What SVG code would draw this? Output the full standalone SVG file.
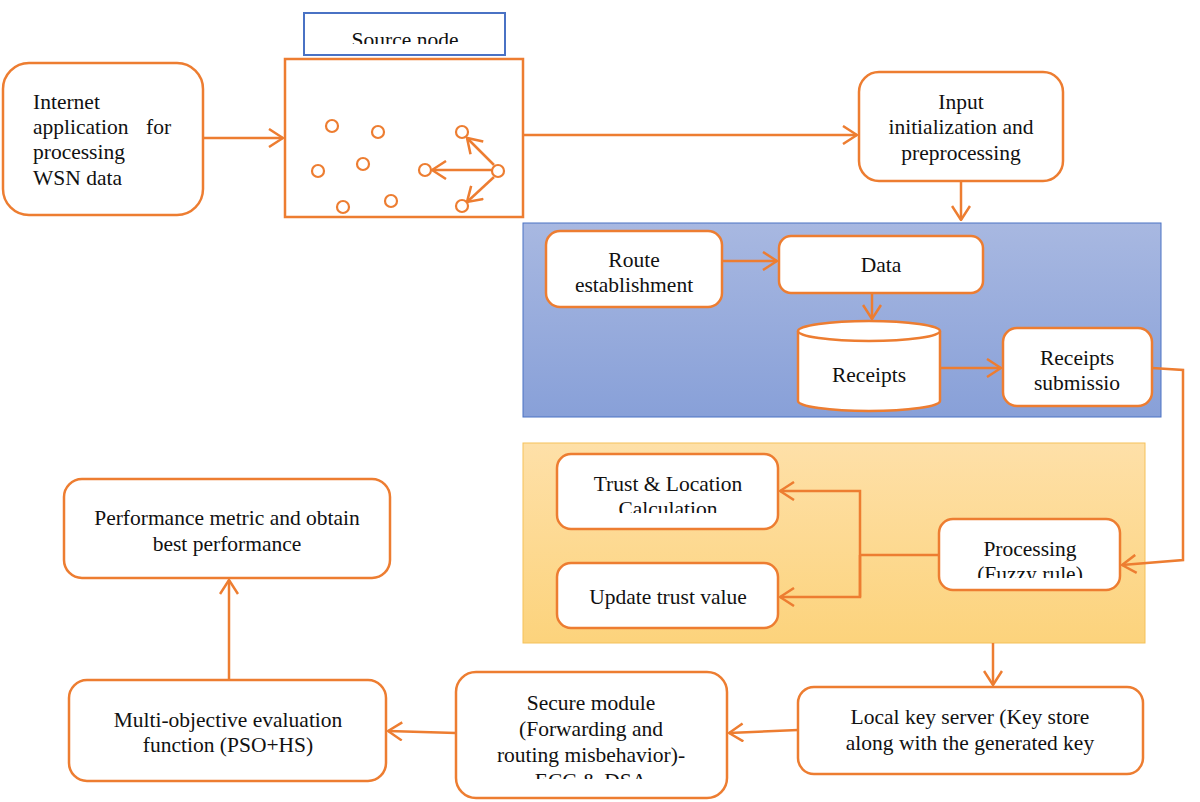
<svg xmlns="http://www.w3.org/2000/svg" width="1200" height="802" viewBox="0 0 1200 802">
<style>
.box{fill:#fff;stroke:#ED7D31;stroke-width:2.5}
.ln{fill:none;stroke:#ED7D31;stroke-width:2.5}
.arr{fill:none;stroke:#ED7D31;stroke-width:2.5;marker-end:url(#ah)}
.t{font-family:"Liberation Serif","Times New Roman",serif;font-size:21.5px;fill:#111}
.c{text-anchor:middle}
.dot{fill:#fff;stroke:#ED7D31;stroke-width:2.2}
</style>
<defs>
<marker id="ah" viewBox="0 0 16 20" refX="15" refY="10" markerWidth="16" markerHeight="20" markerUnits="userSpaceOnUse" orient="auto">
<path d="M1,1 L15,10 L1,19" fill="none" stroke="#ED7D31" stroke-width="2.5"/>
</marker>
<linearGradient id="gb" x1="0" y1="0" x2="0" y2="1">
<stop offset="0" stop-color="#a8b8e1"/><stop offset="1" stop-color="#88a0d8"/>
</linearGradient>
<linearGradient id="go" x1="0" y1="0" x2="0" y2="1">
<stop offset="0" stop-color="#fee0a8"/><stop offset="1" stop-color="#fcd37c"/>
</linearGradient>
<clipPath id="c1"><rect x="300" y="0" width="210" height="44"/></clipPath>
<clipPath id="c2"><rect x="557" y="454" width="221" height="59"/></clipPath>
<clipPath id="c3"><rect x="939" y="519" width="181" height="59"/></clipPath>
<clipPath id="c4"><rect x="456" y="672" width="271" height="107"/></clipPath>
</defs>

<g id="panels">
<rect x="523" y="223" width="638" height="194" fill="url(#gb)" stroke="#4a72c4" stroke-width="1"/>
<rect x="523" y="443" width="622" height="200" fill="url(#go)" stroke="#f5c15a" stroke-width="1"/>
</g>

<g id="internet">
<rect class="box" x="3" y="63" width="200" height="152" rx="26"/>
<text class="t" x="33" y="109">Internet</text>
<text class="t" x="33" y="134">application</text>
<text class="t" x="146" y="134">for</text>
<text class="t" x="33" y="159">processing</text>
<text class="t" x="33" y="185">WSN data</text>
</g>

<g id="source-label">
<rect x="304" y="13" width="201" height="42" fill="#fff" stroke="#4a72c4" stroke-width="2"/>
<text class="t c" x="405" y="47" clip-path="url(#c1)">Source node</text>
</g>

<g id="source-node">
<rect x="285" y="59" width="238" height="158" fill="#fff" stroke="#ED7D31" stroke-width="2.5"/>
<circle class="dot" cx="332" cy="126" r="6"/>
<circle class="dot" cx="378" cy="132" r="6"/>
<circle class="dot" cx="318" cy="171" r="6"/>
<circle class="dot" cx="363" cy="164" r="6"/>
<circle class="dot" cx="343" cy="207" r="6"/>
<circle class="dot" cx="391" cy="201" r="6"/>
<circle class="dot" cx="462" cy="132" r="6"/>
<circle class="dot" cx="425" cy="170" r="6"/>
<circle class="dot" cx="498" cy="171" r="6"/>
<circle class="dot" cx="462" cy="206" r="6"/>
<path class="arr" d="M492,170 L432,170"/>
<path class="arr" d="M494,165 L467,138"/>
<path class="arr" d="M494,177 L467,202"/>
</g>

<g id="input">
<rect class="box" x="859" y="72" width="204" height="109" rx="20"/>
<text class="t c" x="961" y="109">Input</text>
<text class="t c" x="961" y="134">initialization and</text>
<text class="t c" x="961" y="160">preprocessing</text>
</g>

<g id="route">
<rect class="box" x="546" y="231" width="176" height="76" rx="14"/>
<text class="t c" x="634" y="267">Route</text>
<text class="t c" x="634" y="292">establishment</text>
</g>

<g id="data">
<rect class="box" x="779" y="236" width="204" height="57" rx="12"/>
<text class="t c" x="881" y="272">Data</text>
</g>

<g id="receipts">
<path class="box" d="M798,331 L798,401 A71,10 0 0 0 940,401 L940,331"/>
<ellipse class="box" cx="869" cy="331" rx="71" ry="10"/>
<text class="t c" x="869" y="382">Receipts</text>
</g>

<g id="submission">
<rect class="box" x="1003" y="328" width="149" height="78" rx="14"/>
<text class="t c" x="1077" y="365">Receipts</text>
<text class="t c" x="1077" y="390">submissio</text>
</g>

<g id="trust">
<rect class="box" x="557" y="454" width="221" height="75" rx="14"/>
<text class="t c" x="668" y="491">Trust &amp; Location</text>
<text class="t c" x="668" y="516" clip-path="url(#c2)">Calculation</text>
</g>

<g id="update">
<rect class="box" x="557" y="563" width="221" height="65" rx="14"/>
<text class="t c" x="668" y="604">Update trust value</text>
</g>

<g id="processing">
<rect class="box" x="939" y="519" width="181" height="71" rx="14"/>
<text class="t c" x="1030" y="556">Processing</text>
<text class="t c" x="1030" y="581" clip-path="url(#c3)">(Fuzzy rule)</text>
</g>

<g id="localkey">
<rect class="box" x="798" y="687" width="345" height="87" rx="16"/>
<text class="t c" x="970" y="724">Local key server (Key store</text>
<text class="t c" x="970" y="750">along with the generated key</text>
</g>

<g id="secure">
<rect class="box" x="456" y="672" width="271" height="126" rx="20"/>
<text class="t c" x="591" y="710">Secure module</text>
<text class="t c" x="591" y="736">(Forwarding and</text>
<text class="t c" x="591" y="762">routing misbehavior)-</text>
<text class="t c" x="591" y="788" clip-path="url(#c4)">ECC &amp; DSA</text>
</g>

<g id="multi">
<rect class="box" x="69" y="680" width="317" height="101" rx="18"/>
<text class="t c" x="228" y="727">Multi-objective evaluation</text>
<text class="t c" x="228" y="752">function (PSO+HS)</text>
</g>

<g id="performance">
<rect class="box" x="64" y="479" width="326" height="99" rx="18"/>
<text class="t c" x="227" y="525">Performance metric and obtain</text>
<text class="t c" x="227" y="551">best performance</text>
</g>

<g id="connectors">
<path class="arr" d="M203,138 L283,138"/>
<path class="arr" d="M523,135 L857,135"/>
<path class="arr" d="M961,181 L961,220"/>
<path class="arr" d="M722,261 L777,261"/>
<path class="arr" d="M872,293 L872,319"/>
<path class="arr" d="M940,368 L1001,368"/>
<path class="arr" d="M1152,368 L1183,370 L1183,560 L1122,565"/>
<path class="ln" d="M939,555 L860,555"/>
<path class="arr" d="M860,597 L860,491 L780,491"/>
<path class="arr" d="M860,555 L860,597 L780,597"/>
<path class="arr" d="M993,643 L993,685"/>
<path class="arr" d="M798,730 L729,733"/>
<path class="arr" d="M456,733 L388,731"/>
<path class="arr" d="M229,680 L229,580"/>
</g>
</svg>
